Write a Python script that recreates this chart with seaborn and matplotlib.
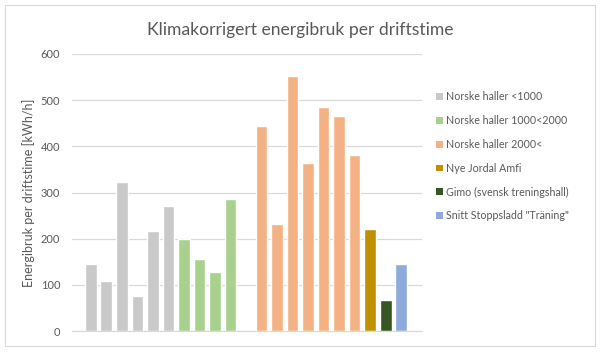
import pandas as pd
import matplotlib.pyplot as plt
import seaborn as sns
from matplotlib.patches import Patch, Rectangle

# Values (kWh/h per operating hour)
group_names = ['Norske haller <1000', 'Norske haller 1000<2000', 'Norske haller 2000<',
               'Nye Jordal Amfi', 'Gimo (svensk treningshall)', 'Snitt Stoppsladd "Träning"']
small_halls = [145, 108, 323, 76, 217, 271]
medium_halls = [199, 156, 128, 286]
large_halls = [444, 232, 552, 364, 485, 466, 381]
nye_jordal = [221]
gimo = [67]
snitt = [145]
colors = ['#C9C9C9', '#A9D18E', '#F4B183', '#BF9000', '#375623', '#8FAADC']

series = [small_halls, medium_halls, large_halls, nye_jordal, gimo, snitt]
rows = []
order = []
for name, vals in zip(group_names, series):
    for i, v in enumerate(vals):
        key = f'{name} #{i + 1}'
        rows.append({'hall': key, 'group': name, 'value': v})
        order.append(key)
    if name == 'Norske haller 1000<2000':
        order.append('gap')  # empty slot between the groups
df = pd.DataFrame(rows)

sns.set_style('white')
plt.rcParams['font.family'] = ['Lato', 'DejaVu Sans']
text_col = '#595959'
grid_col = '#D9D9D9'

fig = plt.figure(figsize=(6.01, 3.54), dpi=100)
ax = fig.add_axes([72 / 601, 23 / 354, 350 / 601, 277 / 354])

sns.barplot(data=df, x='hall', y='value', hue='group', order=order,
            hue_order=group_names, palette=dict(zip(group_names, colors)),
            dodge=False, width=0.75, saturation=1, legend=False, ax=ax)

ax.set_ylim(0, 600)
ax.set_xlim(-1.21, 21.34)
ax.set_yticks(range(0, 601, 100))
ax.set_xticks([])
ax.set_xlabel('')
ax.set_ylabel('Energibruk per driftstime [kWh/h]', fontsize=9, color=text_col, labelpad=4)
ax.tick_params(axis='y', length=0, pad=8.5, labelsize=8, labelcolor=text_col)
ax.yaxis.grid(True, color=grid_col, linewidth=0.9)
ax.set_axisbelow(True)
for side in ['top', 'right', 'left']:
    ax.spines[side].set_visible(False)
ax.spines['bottom'].set_color(grid_col)

fig.text(0.5, 1 - 30 / 354, 'Klimakorrigert energibruk per driftstime', ha='center',
         va='center', fontsize=12.6, color=text_col)

handles = [Patch(facecolor=c, edgecolor='none') for c in colors]
fig.legend(handles, group_names, loc='upper left', bbox_to_anchor=(432 / 601, 1 - 87 / 354),
           frameon=False, fontsize=7.7, labelcolor=text_col, handlelength=0.6,
           handleheight=0.6, handletextpad=0.35, labelspacing=1.2, borderaxespad=0)

fig.patches.append(Rectangle((5 / 601, 8 / 354), 590 / 601, 341 / 354, transform=fig.transFigure,
                             fill=False, edgecolor='#D9D9D9', linewidth=0.8))

fig.savefig('out.png', dpi=100)
